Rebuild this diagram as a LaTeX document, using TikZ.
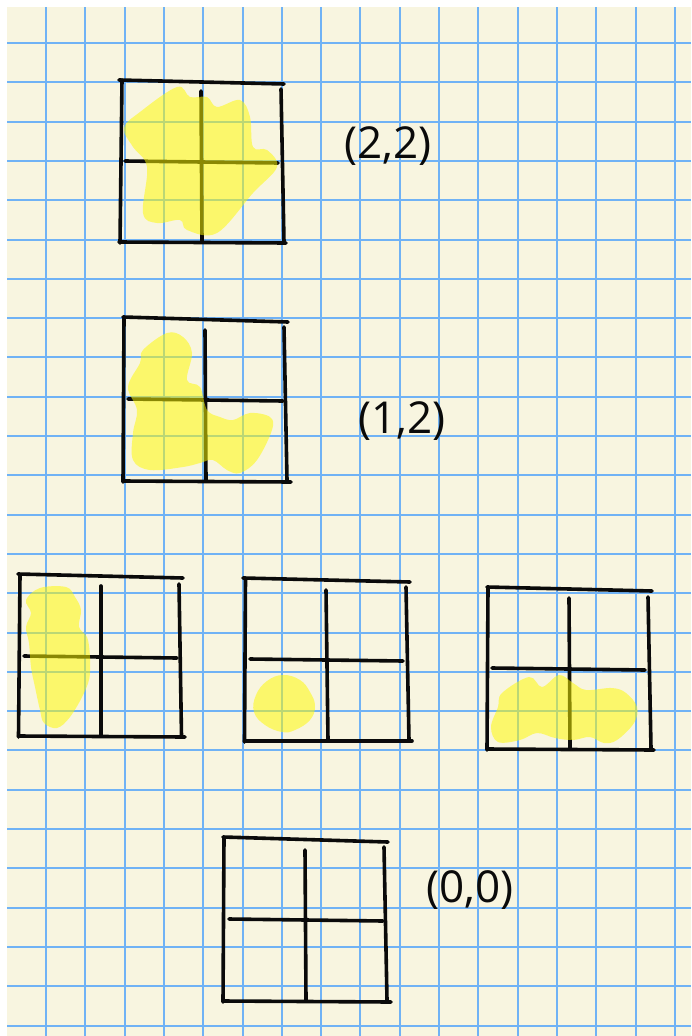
\documentclass[tikz,border=0pt]{standalone}
\usepackage{fontspec}
\setmainfont{Open Sans}
\usepackage{tikz}
\usetikzlibrary{positioning}
\definecolor{cPaper}{RGB}{248,245,224}
\definecolor{cRule}{RGB}{112,178,245}
\definecolor{cInk}{RGB}{10,10,10}
\definecolor{cMark}{RGB}{255,250,0}
\tikzset{
  rule/.style  = {draw=cRule, line width=2pt},
  ink/.style   = {draw=cInk, line width=3.6pt, line cap=round},
  highlight/.style = {fill=cMark, fill opacity=0.52, draw=none},
  lbl/.style   = {font=\fontsize{44}{50}\selectfont, text=cInk, inner sep=0pt},
}
\begin{document}
\begin{tikzpicture}[x=1pt, y=-1pt]
  \useasboundingbox (0,0) rectangle (691,1036);
  \fill[white] (0,0) rectangle (691,1036);
  \fill[cPaper] (7,7) rectangle (691,1036);
  % squared paper
  \foreach \k in {0,...,16} \draw[rule] (46+39.3*\k,7) -- (46+39.3*\k,1036);
  \foreach \k in {0,...,25} \draw[rule] (7,43+39.3*\k) -- (691,43+39.3*\k);

  % top window (2,2)
  \draw[ink] (119,80) -- (284,84);
  \draw[ink] (122,80) -- (120,243);
  \draw[ink] (119,242) -- (286,243);
  \draw[ink] (281,89) -- (284,242);
  \draw[ink] (201,91) -- (202,241);
  \draw[ink] (125,161) -- (278,163);
  \fill[highlight] plot[smooth cycle, tension=0.6] coordinates {
    (177,87) (190,97) (207,97) (217,107) (240,100) (250,117) (253,147)
    (267,150) (277,167) (253,193) (217,233) (187,230) (180,220) (157,223)
    (143,213) (147,167) (133,147) (124,128) (140,112)};
  \node[lbl] (lbl22) at (388,146) {(2,2)};

  % window (1,2)
  \draw[ink] (123,317) -- (288,322);
  \draw[ink] (124,318) -- (123,482);
  \draw[ink] (123,481) -- (291,482);
  \draw[ink] (284,327) -- (287,480);
  \draw[ink] (205,330) -- (206,480);
  \draw[ink] (128,399) -- (283,401);
  \fill[highlight] plot[smooth cycle, tension=0.6] coordinates {
    (143,350) (167,333) (183,337) (192,353) (187,380) (200,387) (207,410)
    (220,417) (233,420) (250,413) (270,417) (272,430) (257,460) (240,473)
    (227,470) (213,460) (200,463) (183,467) (150,470) (133,460) (133,433)
    (137,410) (128,387) (140,363)};
  \node[lbl] (lbl12) at (402,421) {(1,2)};

  % middle row, left
  \draw[ink] (18,574) -- (183,578);
  \draw[ink] (20,575) -- (18.5,737);
  \draw[ink] (18.5,736) -- (185,737);
  \draw[ink] (179,584) -- (181.5,736);
  \draw[ink] (101,586) -- (101,735);
  \draw[ink] (24,656) -- (177,658);
  \fill[highlight] plot[smooth cycle, tension=0.6] coordinates {
    (40,588) (66,587) (75,597) (81,610) (79,627) (88,640) (90,673)
    (84,693) (70,717) (57,728) (44,723) (40,710) (35,687) (31,667)
    (29,643) (26,627) (31,613) (26,600)};

  % middle row, centre
  \draw[ink] (243,578) -- (410,582);
  \draw[ink] (245.5,578) -- (244.5,742);
  \draw[ink] (244.5,741) -- (412,741);
  \draw[ink] (406,587) -- (409,740);
  \draw[ink] (326,590) -- (328,740);
  \draw[ink] (250,659) -- (403,661);
  \fill[highlight] plot[smooth cycle, tension=0.7] coordinates {
    (283,675) (300,680) (310,692) (315,706) (310,720) (295,730)
    (282,732) (265,725) (254,712) (256,695) (267,681)};

  % middle row, right
  \draw[ink] (487,587) -- (652,591);
  \draw[ink] (488,588) -- (487,750);
  \draw[ink] (487,749) -- (654,750);
  \draw[ink] (648,597) -- (651,748);
  \draw[ink] (569,598) -- (570,748);
  \draw[ink] (492,668) -- (645,670);
  \fill[highlight] plot[smooth cycle, tension=0.6] coordinates {
    (502,693) (529,677) (542,687) (559,675) (573,683) (586,690) (612,688)
    (626,693) (637,707) (634,723) (617,740) (604,743) (590,737) (573,740)
    (555,738) (537,733) (520,740) (498,742) (491,727) (498,707)};

  % bottom window (0,0)
  \draw[ink] (223,837) -- (388,842);
  \draw[ink] (224,838) -- (223,1002);
  \draw[ink] (223,1001) -- (391,1002);
  \draw[ink] (384,847) -- (387,1000);
  \draw[ink] (305,850) -- (306,1000);
  \draw[ink] (229,919) -- (383,921);
  \node[lbl] (lbl00) at (470,890) {(0,0)};
\end{tikzpicture}
\end{document}
